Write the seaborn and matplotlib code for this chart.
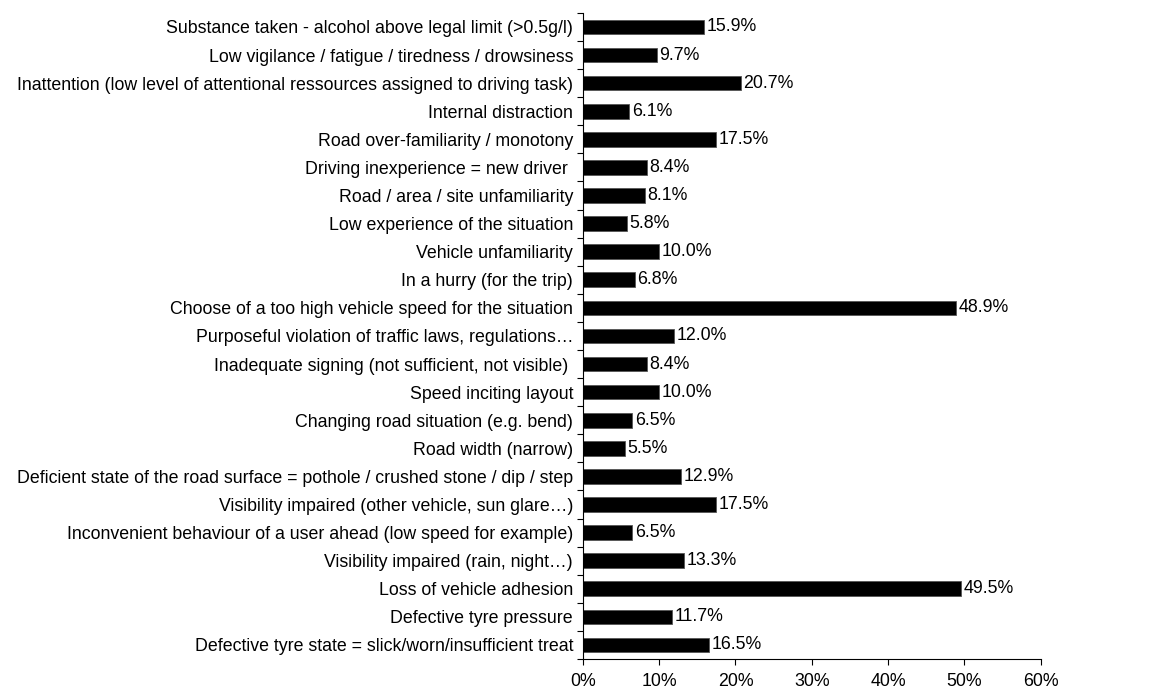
import matplotlib
matplotlib.use("Agg")
import matplotlib.pyplot as plt
import seaborn as sns
import pandas as pd
from matplotlib.ticker import FuncFormatter

sns.set_style("white")
plt.rcParams['font.family'] = ['Liberation Sans', 'DejaVu Sans']
plt.rcParams['text.color'] = 'black'
plt.rcParams['xtick.color'] = 'black'
plt.rcParams['ytick.color'] = 'black'

factors = [
    "Substance taken - alcohol above legal limit (>0.5g/l)",
    "Low vigilance / fatigue / tiredness / drowsiness",
    "Inattention (low level of attentional ressources assigned to driving task)",
    "Internal distraction",
    "Road over-familiarity / monotony",
    "Driving inexperience = new driver ",
    "Road / area / site unfamiliarity",
    "Low experience of the situation",
    "Vehicle unfamiliarity",
    "In a hurry (for the trip)",
    "Choose of a too high vehicle speed for the situation",
    "Purposeful violation of traffic laws, regulations\u2026",
    "Inadequate signing (not sufficient, not visible) ",
    "Speed inciting layout",
    "Changing road situation (e.g. bend)",
    "Road width (narrow)",
    "Deficient state of the road surface = pothole / crushed stone / dip / step",
    "Visibility impaired (other vehicle, sun glare\u2026)",
    "Inconvenient behaviour of a user ahead (low speed for example)",
    "Visibility impaired (rain, night\u2026)",
    "Loss of vehicle adhesion",
    "Defective tyre pressure",
    "Defective tyre state = slick/worn/insufficient treat",
]
shares = [15.9, 9.7, 20.7, 6.1, 17.5, 8.4, 8.1, 5.8, 10.0, 6.8, 48.9, 12.0,
          8.4, 10.0, 6.5, 5.5, 12.9, 17.5, 6.5, 13.3, 49.5, 11.7, 16.5]

df = pd.DataFrame({'Factor': factors, 'Share': shares})

fs = 12.8

fig = plt.figure(figsize=(11.68, 6.94), dpi=100)
ax = fig.add_axes([0.499, 0.0504, 0.392, 0.931])

sns.barplot(data=df, x='Share', y='Factor', color='black', width=0.52,
            edgecolor='#555555', linewidth=0.6, saturation=1, ax=ax)

for i, v in enumerate(shares):
    ax.text(v + 0.35, i, f"{v:.1f}%", va='center', ha='left', fontsize=fs)

ax.set_xlim(0, 60)
ax.set_ylim(len(factors) - 0.5, -0.5)
ax.set_xticks(range(0, 61, 10))
ax.xaxis.set_major_formatter(FuncFormatter(lambda x, p: f"{x:.0f}%"))
ax.set_yticks([i - 0.5 for i in range(len(factors) + 1)], minor=True)
ax.set_yticks(range(len(factors)))
ax.set_yticklabels(factors, fontsize=fs)
ax.tick_params(axis='y', which='major', length=0, pad=7)
ax.tick_params(axis='y', which='minor', length=4, width=0.8, color='black', direction='out', left=True)
ax.tick_params(axis='x', length=4, width=0.8, color='black', direction='out', bottom=True,
               labelsize=fs, pad=6)
ax.set_xlabel('')
ax.set_ylabel('')
for s in ['top', 'right']:
    ax.spines[s].set_visible(False)
for s in ['left', 'bottom']:
    ax.spines[s].set_color('black')
    ax.spines[s].set_linewidth(0.8)

fig.savefig('out.png', dpi=100)
